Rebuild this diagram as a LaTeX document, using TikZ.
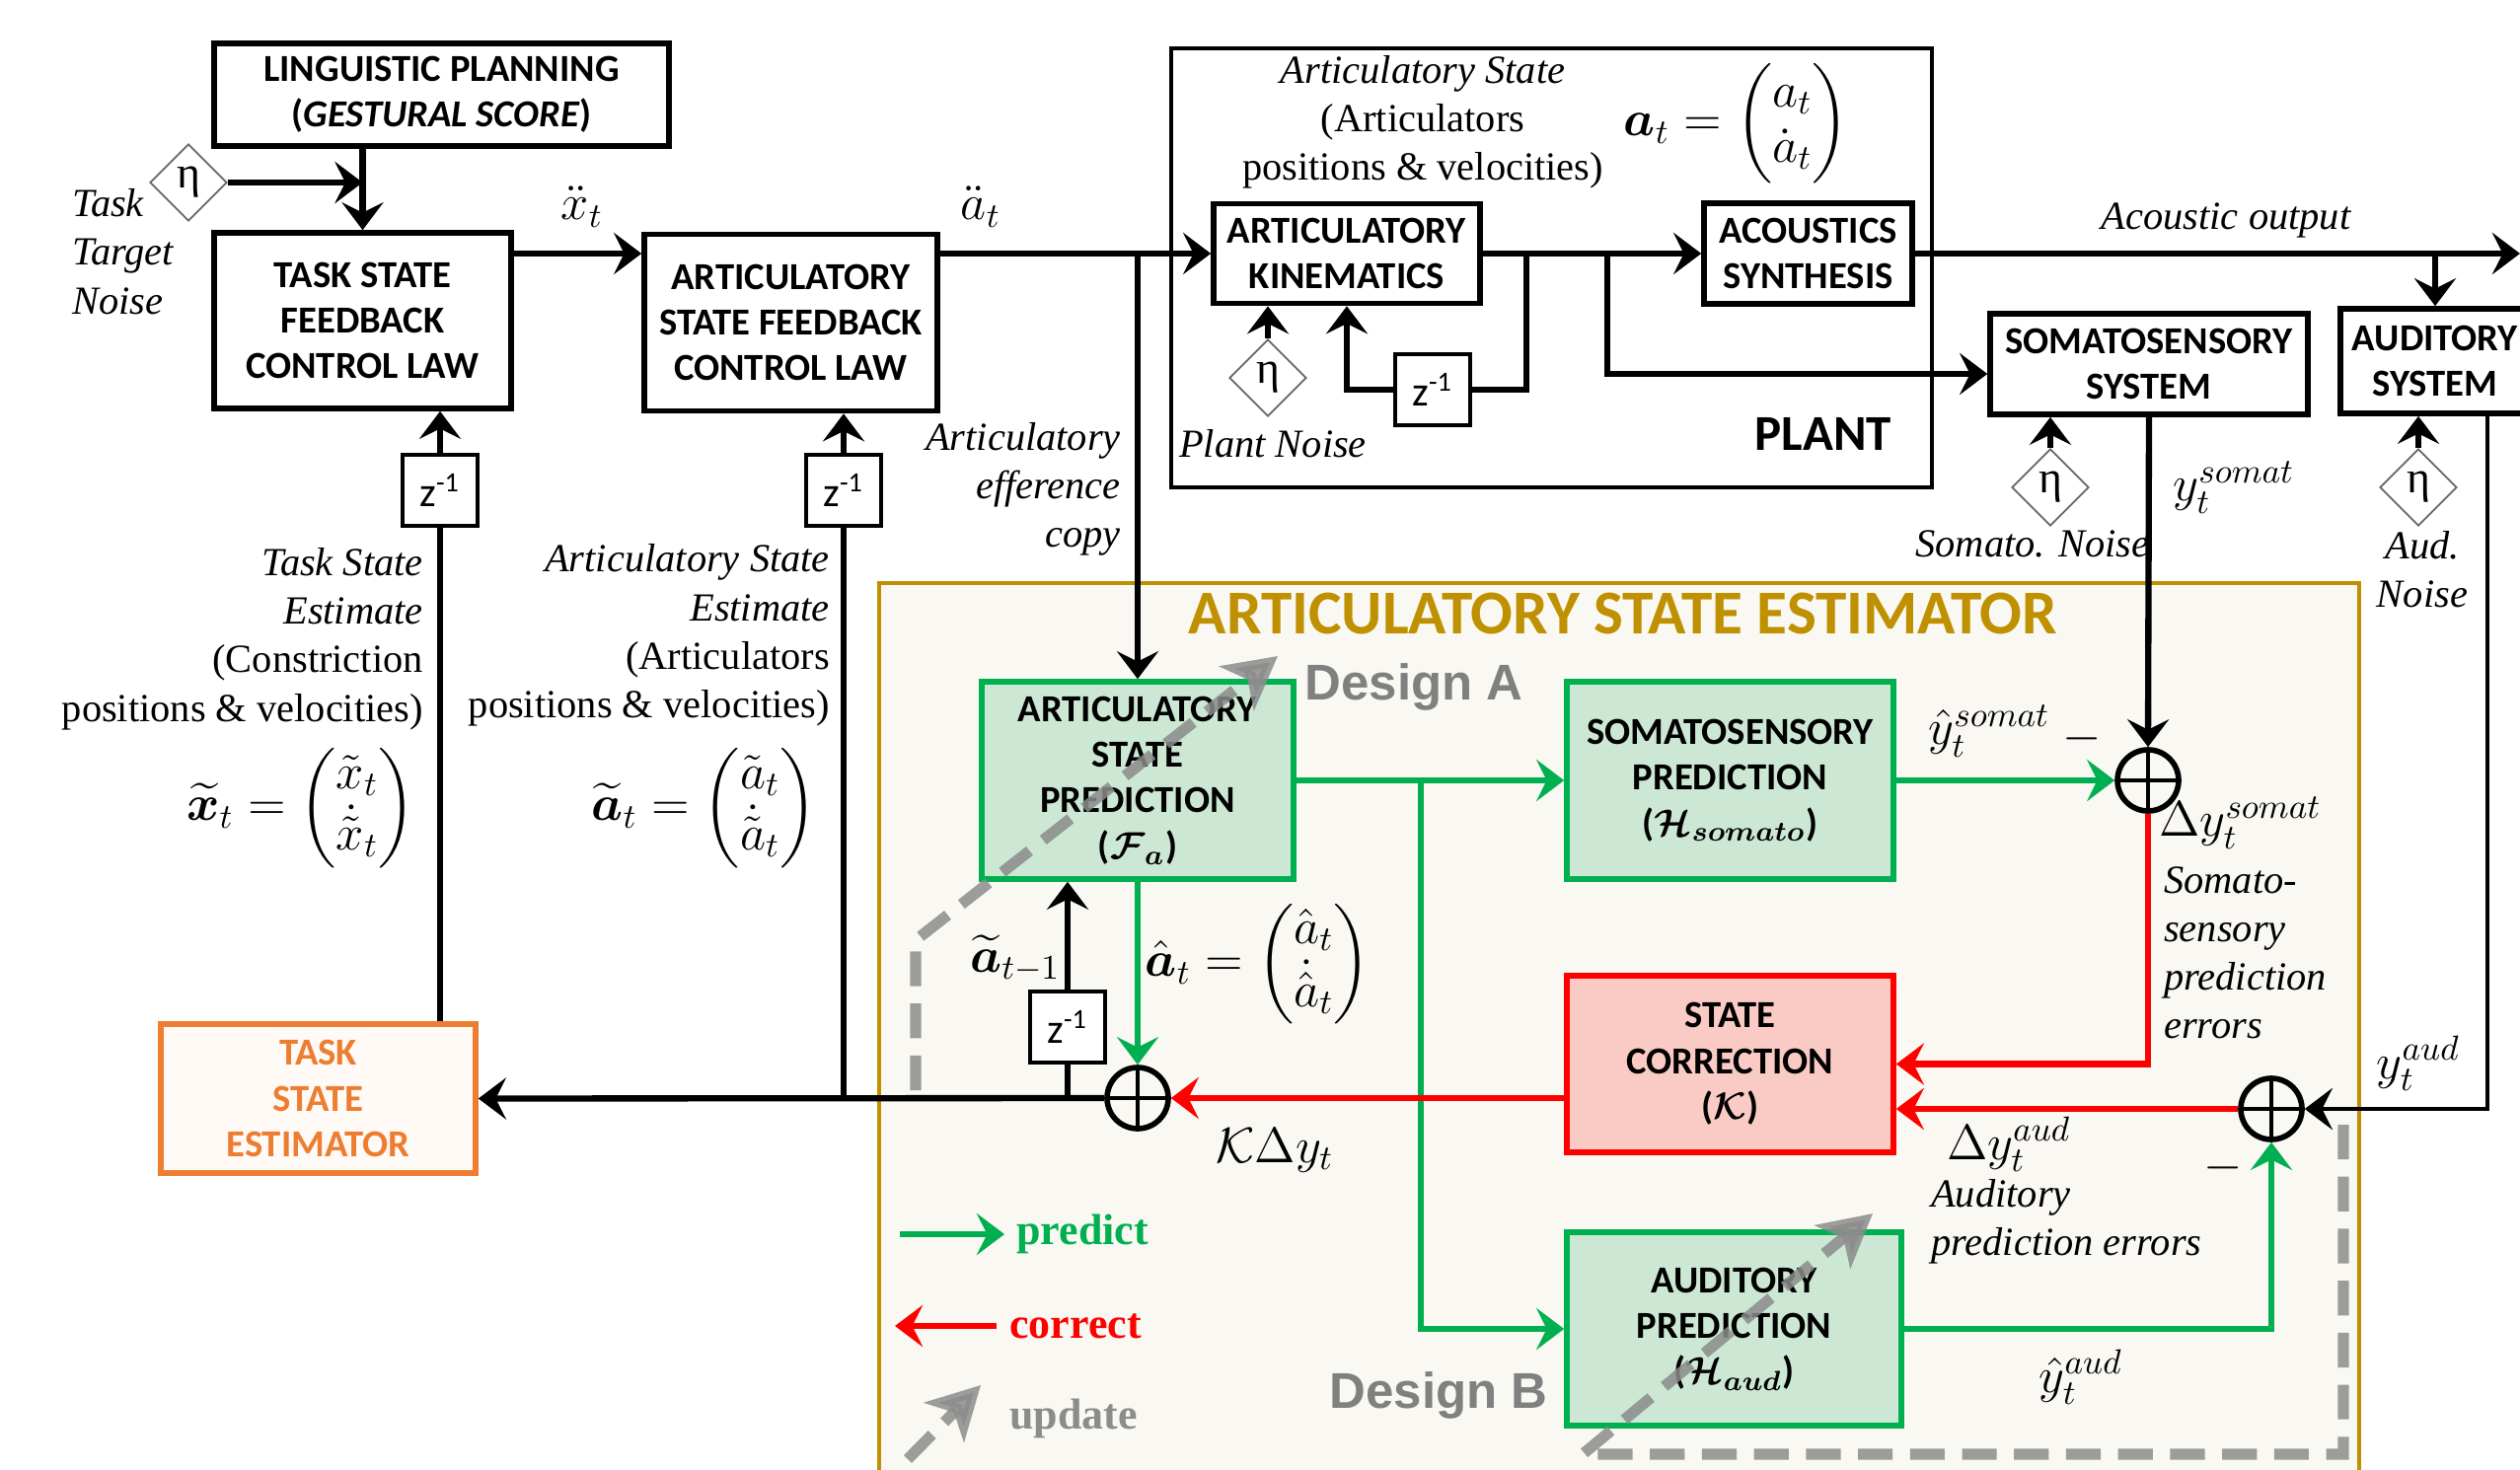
\documentclass[tikz,border=0pt]{standalone}
\usepackage{fontspec}
\usepackage{amsmath}
\usepackage{bm}
\setmainfont{Liberation Serif}
\newfontfamily\boxfont{Carlito}
\newfontfamily\sansbold{Liberation Sans}
\usetikzlibrary{arrows.meta,positioning,shapes.geometric}

\definecolor{pgreen}{HTML}{00B050}
\definecolor{pgreenfill}{HTML}{CCE8D4}
\definecolor{pred}{HTML}{FF0000}
\definecolor{predfill}{HTML}{F9CBC4}
\definecolor{gold}{HTML}{BF9000}
\definecolor{cream}{HTML}{FAF8F2}
\definecolor{orng}{HTML}{ED7D31}
\definecolor{orngfill}{HTML}{FFFAF6}
\definecolor{dgray}{HTML}{8C8C8C}

\begin{document}
\begin{tikzpicture}[
  blk/.style={draw, line width=1.6pt, align=center, inner sep=2pt, font=\boxfont\bfseries\fontsize{11}{13.2}\selectfont},
  gblk/.style={blk, draw=pgreen, fill=pgreenfill},
  rblk/.style={blk, draw=pred, fill=predfill},
  oblk/.style={blk, draw=orng, fill=orngfill, text=orng},
  zbox/.style={draw, line width=1.4pt, fill=white, minimum width=0.76cm, minimum height=0.72cm, inner sep=0pt, font=\boxfont\fontsize{12}{14}\selectfont},
  noise/.style={diamond, draw=black!60, line width=0.5pt, fill=white, minimum size=0.78cm, inner sep=0pt, font=\fontsize{13}{15}\selectfont},
  sumnode/.style={circle, draw, line width=1.6pt, minimum size=0.62cm, inner sep=0pt,
    path picture={\draw[line width=1.3pt] (path picture bounding box.north) -- (path picture bounding box.south)
      (path picture bounding box.west) -- (path picture bounding box.east);}},
  note/.style={inner sep=1pt, font=\fontsize{11.5}{14}\selectfont},
  lab/.style={inner sep=1pt, font=\itshape\fontsize{11.5}{14}\selectfont},
  mlab/.style={inner sep=1pt, font=\fontsize{14.5}{16}\selectfont},
  eqlab/.style={inner sep=1pt, font=\fontsize{14}{16}\selectfont},
  desg/.style={inner sep=1pt, font=\sansbold\bfseries\fontsize{14.5}{17}\selectfont, text=black!50},
  ln/.style={line width=1.8pt},
  arr/.style={ln, -{Stealth[length=8pt, width=12pt, inset=3pt]}},
  garr/.style={arr, draw=pgreen},
  rarr/.style={arr, draw=pred},
  upd/.style={line width=3.2pt, draw=dgray, opacity=0.85, dash pattern=on 10pt off 5pt, -{Stealth[length=15pt, width=16pt, inset=4pt]}}
]
\useasboundingbox (0,0) rectangle (25.54,-14.90);

% estimator and plant frames
\node[draw=gold, fill=cream, line width=1.4pt, minimum width=15.0cm, minimum height=9.3cm, inner sep=0pt] (est) at (16.41,-10.56) {};
\node[font=\boxfont\bfseries\fontsize{18}{20}\selectfont, text=gold] (esttitle) at (16.45,-6.22) {ARTICULATORY STATE ESTIMATOR};
\node[draw, line width=0.9pt, minimum width=7.71cm, minimum height=4.45cm, inner sep=0pt] (plant) at (15.725,-2.715) {};
\node[font=\boxfont\bfseries\fontsize{14.5}{17}\selectfont] (plantlab) at (18.48,-4.40) {PLANT};

% controller side
\node[blk, minimum width=4.61cm, minimum height=1.04cm] (lp) at (4.475,-0.96) {LINGUISTIC PLANNING\\(\textit{GESTURAL SCORE})};
\node[blk, minimum width=3.01cm, minimum height=1.78cm] (tsfcl) at (3.675,-3.25) {TASK STATE\\FEEDBACK\\CONTROL LAW};
\node[blk, minimum width=2.97cm, minimum height=1.79cm] (asfcl) at (8.015,-3.27) {ARTICULATORY\\STATE FEEDBACK\\CONTROL LAW};
\node[oblk, minimum width=3.19cm, minimum height=1.51cm] (tse) at (3.225,-11.135) {TASK\\STATE\\ESTIMATOR};
\node[noise] (tnoise) at (1.91,-1.85) {η};
\node[zbox] (zt) at (4.46,-4.97) {z\textsuperscript{-1}};
\node[zbox] (za) at (8.55,-4.97) {z\textsuperscript{-1}};

% plant
\node[blk, minimum width=2.70cm, minimum height=1.01cm] (ak) at (13.65,-2.57) {ARTICULATORY\\KINEMATICS};
\node[blk, minimum width=2.11cm, minimum height=1.02cm] (acsyn) at (18.325,-2.57) {ACOUSTICS\\SYNTHESIS};
\node[noise] (pnoise) at (12.85,-3.83) {η};
\node[zbox] (zk) at (14.52,-3.95) {z\textsuperscript{-1}};
\node[note, align=center] (plantstate) at (14.42,-1.235) {\textit{Articulatory State}\\(Articulators\\positions \& velocities)};
\node[eqlab] (ateq) at (17.60,-1.25) {$\boldsymbol{a}_t = \begin{pmatrix} a_t\\ \dot{a}_t\end{pmatrix}$};
\node[lab] (pnoiselab) at (12.90,-4.50) {Plant Noise};

% sensory systems
\node[blk, minimum width=3.22cm, minimum height=1.02cm] (ss) at (21.78,-3.69) {SOMATOSENSORY\\SYSTEM};
\node[blk, minimum width=1.92cm, minimum height=1.06cm] (audsys) at (24.68,-3.66) {AUDITORY\\SYSTEM};
\node[noise] (snoise) at (20.78,-4.94) {η};
\node[noise] (anoise) at (24.51,-4.94) {η};
\node[lab] (snoiselab) at (20.60,-5.51) {Somato. Noise};
\node[lab, align=center] (anoiselab) at (24.55,-5.77) {Aud.\\Noise};
\node[lab] (acout) at (22.56,-2.23) {Acoustic output};

% estimator blocks
\node[gblk, minimum width=3.16cm, minimum height=2.00cm] (asp) at (11.53,-7.91) {ARTICULATORY\\STATE\\PREDICTION\\($\boldsymbol{\mathcal{F}_a}$)};
\node[gblk, minimum width=3.31cm, minimum height=2.00cm] (somp) at (17.535,-7.91) {SOMATOSENSORY\\PREDICTION\\($\boldsymbol{\mathcal{H}_{somato}}$)};
\node[rblk, minimum width=3.31cm, minimum height=1.79cm] (sc) at (17.535,-10.785) {STATE\\CORRECTION\\($\boldsymbol{\mathcal{K}}$)};
\node[gblk, minimum width=3.39cm, minimum height=1.96cm] (audp) at (17.575,-13.47) {AUDITORY\\PREDICTION\\($\boldsymbol{\mathcal{H}_{aud}}$)};
\node[sumnode] (sum1) at (21.77,-7.91) {};
\node[sumnode] (sum2) at (23.02,-11.24) {};
\node[sumnode] (sum3) at (11.53,-11.13) {};
\node[zbox] (zp) at (10.82,-10.41) {z\textsuperscript{-1}};

% labels
\node[lab, align=left, anchor=west] (tnoiselab) at (0.69,-2.55) {Task\\Target\\Noise};
\node[mlab] (xdd) at (5.90,-2.10) {$\ddot{x}_t$};
\node[mlab] (add) at (9.94,-2.10) {$\ddot{a}_t$};
\node[lab, align=right, anchor=east] (effcopy) at (11.40,-4.96) {Articulatory\\efference\\copy};
\node[note, align=right, anchor=east] (tsest) at (4.33,-6.475) {\textit{Task State}\\\textit{Estimate}\\(Constriction\\positions \& velocities)};
\node[note, align=right, anchor=east] (asest) at (8.45,-6.44) {\textit{Articulatory State}\\\textit{Estimate}\\(Articulators\\positions \& velocities)};
\node[eqlab, anchor=east] (xteq) at (4.25,-8.19) {$\widetilde{\boldsymbol{x}}_t = \begin{pmatrix}\tilde{x}_t\\ \dot{\tilde{x}}_t\end{pmatrix}$};
\node[eqlab, anchor=east] (ateqest) at (8.32,-8.19) {$\widetilde{\boldsymbol{a}}_t = \begin{pmatrix}\tilde{a}_t\\ \dot{\tilde{a}}_t\end{pmatrix}$};
\node[eqlab] (ahateq) at (12.75,-9.77) {$\hat{\boldsymbol{a}}_t = \begin{pmatrix}\hat{a}_t\\ \dot{\hat{a}}_t\end{pmatrix}$};
\node[mlab] (atm1) at (10.29,-9.72) {$\widetilde{\boldsymbol{a}}_{t-1}$};
\node[mlab] (kdy) at (12.92,-11.66) {$\mathcal{K}\Delta y_t$};
\node[mlab] (ysom) at (22.64,-4.94) {$y_t^{somat}$};
\node[mlab] (yhsom) at (20.16,-7.41) {$\hat{y}_t^{somat}$};
\node[mlab] (minus1) at (21.10,-7.49) {$-$};
\node[mlab, anchor=west] (dysom) at (21.84,-8.34) {$\Delta y_t^{somat}$};
\node[lab, align=left, anchor=west] (somerr) at (21.89,-9.66) {Somato-\\sensory\\prediction\\errors};
\node[mlab] (yaud) at (24.51,-10.78) {$y_t^{aud}$};
\node[mlab] (dyaud) at (20.36,-11.60) {$\Delta y_t^{aud}$};
\node[lab, align=left, anchor=west] (auderr) at (19.53,-12.38) {Auditory\\prediction errors};
\node[mlab] (yhaud) at (21.09,-13.96) {$\hat{y}_t^{aud}$};
\node[mlab] (minus2) at (22.53,-11.84) {$-$};
\node[desg] (desa) at (14.33,-6.96) {Design A};
\node[desg] (desb) at (14.58,-14.14) {Design B};

% legend
\node[font=\bfseries\fontsize{12.5}{14}\selectfont, text=pgreen, anchor=west] (lpred) at (10.18,-12.51) {predict};
\node[font=\bfseries\fontsize{12.5}{14}\selectfont, text=pred, anchor=west] (lcorr) at (10.11,-13.44) {correct};
\node[font=\bfseries\fontsize{12.5}{14}\selectfont, text=dgray, anchor=west] (lupd) at (10.11,-14.38) {update};
\coordinate (lg0) at (9.12,-12.51);
\coordinate (lr0) at (10.10,-13.44);
\coordinate (lr1) at (9.07,-13.44);
\coordinate (lu0) at (9.20,-14.79);
\coordinate (lu1) at (9.94,-14.04);
\draw[garr] (lg0) -- (lpred.west);
\draw[rarr] (lr0) -- (lr1);
\draw[upd] (lu0) -- (lu1);

% control chain
\coordinate (fwd) at (0,-2.57);
\draw[arr] (lp.south -| tsfcl.north) -- (tsfcl.north);
\draw[arr] (tnoise.east) -- (tnoise.east -| tsfcl.north);
\draw[arr] (tsfcl.east |- fwd) -- (asfcl.west |- fwd);
\draw[arr] (asfcl.east |- fwd) -- (ak.west);
\draw[arr] (asp.north |- fwd) -- (asp.north);

% plant
\coordinate (kloop) at (15.47,-2.57);
\coordinate (ssplit) at (16.29,-2.57);
\coordinate (outend) at (25.54,-2.57);
\draw[arr] (pnoise.north) -- (pnoise.north |- ak.south);
\draw[arr] (ak.east) -- (acsyn.west);
\draw[ln] (kloop) |- (zk.east);
\draw[arr] (zk.west) -| (ak.south);
\draw[arr] (ssplit) |- ([yshift=-1mm]ss.west);
\draw[arr] (acsyn.east) -- (outend);
\draw[arr] (acsyn.east -| audsys.north) -- (audsys.north);

% sensory feedback
\coordinate (audbend) at (25.21,-11.24);
\draw[arr] (snoise.north) -- (snoise.north |- ss.south);
\draw[arr] (anoise.north) -- (anoise.north |- audsys.south);
\draw[arr] (ss.south) -- (sum1.north);
\draw[arr, line width=1.4pt] (audbend |- audsys.south) -- (audbend) -- (sum2.east);

% predict
\coordinate (gsplit) at (14.40,-7.91);
\draw[garr] (asp.east) -- (somp.west);
\draw[garr] (gsplit) |- (audp.west);
\draw[garr] (somp.east) -- (sum1.west);
\draw[garr] (audp.east) -| (sum2.south);
\draw[garr] (asp.south) -- (sum3.north);

% correct
\draw[rarr] (sum1.south) |- (sc.east);
\draw[rarr] (sum2.west) -- (sum2.west -| sc.east);
\draw[rarr] (sc.west |- sum3) -- (sum3.east);

% estimate feedback
\draw[arr] (sum3.west) -- (tse.east);
\draw[ln] (zp.south |- sum3) -- (zp.south);
\draw[arr] (zp.north) -- (zp.north |- asp.south);
\draw[ln] (za.south |- sum3) -- (za.south);
\draw[arr] (za.north) -- (za.north |- asfcl.south);
\draw[ln] (zt.south |- tse.north) -- (zt.south);
\draw[arr] (zt.north) -- (zt.north |- tsfcl.south);

% update paths
\coordinate (da0) at (9.28,-11.05);
\coordinate (da1) at (9.28,-9.53);
\coordinate (da2) at (12.95,-6.65);
\coordinate (db0) at (23.75,-11.40);
\coordinate (db1) at (23.75,-14.74);
\coordinate (db2) at (16.04,-14.74);
\coordinate (db3) at (18.98,-12.30);
\draw[upd] (da0) -- (da1) -- (da2);
\draw[upd] (db0) -- (db1) -- (db2) -- (db3);
\end{tikzpicture}
\end{document}
